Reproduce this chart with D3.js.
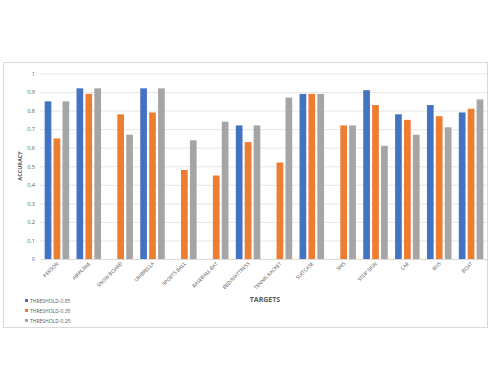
<!DOCTYPE html>
<html><head><meta charset="utf-8">
<script src="https://cdn.jsdelivr.net/npm/d3@7"></script>
<style>body{margin:0;background:#fff}svg{display:block}</style>
</head><body><svg id="c" width="495" height="390"></svg>
<script>
const categories = ["PERSON","AIRPLANE","SNOW BOARD","UMBRELLA","SPORTS BALL","BASEBALL BAT","BED/MATTRESS","TENNIS RACKET","SUITCASE","SKIS","STOP SIGN","CAR","BUS","BOAT"];
const seriesNames = ["THRESHOLD-0.85","THRESHOLD-0.35","THRESHOLD-0.25"];
const t085 = [0.85,0.92,null,0.92,null,null,0.72,null,0.89,null,0.91,0.78,0.83,0.79];
const t035 = [0.65,0.89,0.78,0.79,0.48,0.45,0.63,0.52,0.89,0.72,0.83,0.75,0.77,0.81];
const t025 = [0.85,0.92,0.67,0.92,0.64,0.74,0.72,0.87,0.89,0.72,0.61,0.67,0.71,0.86];
const yTicks = [0,0.1,0.2,0.3,0.4,0.5,0.6,0.7,0.8,0.9,1];
const colors = ["#4472C4","#ED7D31","#A5A5A5"];
const seriesValues = [t085,t035,t025];

const svg = d3.select("#c");
svg.append("rect").attr("x",3.5).attr("y",62.5).attr("width",484).attr("height",265)
  .attr("fill","#fff").attr("stroke","#d9d9d9").attr("stroke-width",1);

const x = d3.scaleBand().domain(categories).range([41,487]).paddingInner(0.23).paddingOuter(0.115);
const xs = d3.scaleBand().domain(d3.range(3)).range([0,x.bandwidth()]).paddingInner(0.25);
const y = d3.scaleLinear().domain([0,1]).range([259,73.5]);

const yAxis = d3.axisLeft(y).tickValues(yTicks).tickSize(-(487-40)).tickFormat(d=>d3.format("")(d));
const ga = svg.append("g").attr("transform","translate(40,0)").call(yAxis);
ga.select(".domain").remove();
ga.selectAll(".tick line").attr("stroke","#e6e6e6");
ga.selectAll(".tick text").attr("fill","#595959").attr("font-size",5.5).attr("font-family","Open Sans, sans-serif").attr("x",-5);

const data = [];
categories.forEach((c,i)=>seriesValues.forEach((s,j)=>{ if(s[i]!=null) data.push({c,j,v:s[i]}); }));
svg.append("g").selectAll("rect").data(data).join("rect")
  .attr("x",d=>x(d.c)+xs(d.j)).attr("width",xs.bandwidth())
  .attr("y",d=>y(d.v)).attr("height",d=>y(0)-y(d.v)).attr("fill",d=>colors[d.j]);

const xAxis = d3.axisBottom(x).tickSize(0);
const gx = svg.append("g").attr("transform","translate(0,259)").call(xAxis);
gx.select(".domain").attr("stroke","#d9d9d9");
gx.selectAll(".tick text").attr("fill","#595959").attr("font-size",5).attr("font-family","Open Sans, sans-serif")
  .attr("text-anchor","end").attr("dy",0).attr("y",0).attr("x",0)
  .attr("transform","translate(2,5) rotate(-45)");

svg.append("text").attr("transform","translate(22,166) rotate(-90)").attr("text-anchor","middle")
  .attr("font-size",5.5).attr("font-weight","bold").attr("fill","#595959").attr("font-family","Open Sans, sans-serif").text("ACCURACY");
svg.append("text").attr("x",265).attr("y",302).attr("text-anchor","middle")
  .attr("font-size",7).attr("font-weight","bold").attr("fill","#595959").attr("font-family","Open Sans, sans-serif").text("TARGETS");

const lg = svg.append("g");
seriesNames.forEach((n,i)=>{
  const yy = 301 + i*10;
  lg.append("rect").attr("x",25).attr("y",yy-2).attr("width",3).attr("height",3).attr("fill",colors[i]);
  lg.append("text").attr("x",30).attr("y",yy+1.5).attr("font-size",5).attr("fill","#595959").attr("font-family","Open Sans, sans-serif").text(n);
});
</script></body></html>
